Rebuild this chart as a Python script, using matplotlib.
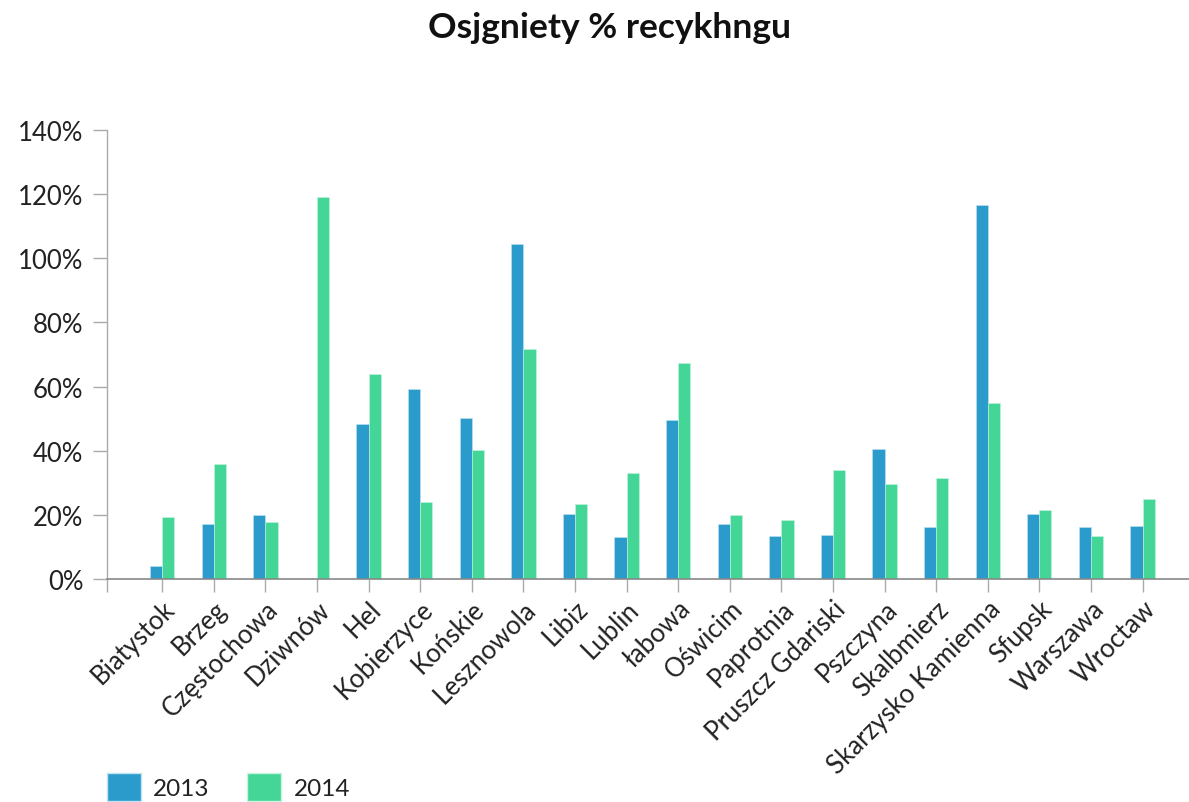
import matplotlib
matplotlib.use("Agg")
import matplotlib.pyplot as plt
from matplotlib.patches import Patch
import numpy as np

plt.rcParams['font.family'] = ['Lato', 'DejaVu Sans']

cities = ['Biatystok', 'Brzeg', 'Częstochowa', 'Dziwnów', 'Hel', 'Kobierzyce',
          'Końskie', 'Lesznowola', 'Libiz', 'Lublin', 'łabowa', 'Oświcim',
          'Paprotnia', 'Pruszcz Gdariski', 'Pszczyna', 'Skalbmierz',
          'Skarzysko Kamienna', 'Sfupsk', 'Warszawa', 'Wroctaw']
y2013 = [4.0, 17.2, 19.9, 0.0, 48.4, 59.3, 50.3, 104.4, 20.3, 13.0,
         49.5, 17.2, 13.3, 13.8, 40.6, 16.1, 116.5, 20.4, 16.2, 16.5]
y2014 = [19.2, 35.9, 17.9, 119.0, 63.9, 23.9, 40.2, 71.6, 23.5, 33.2,
         67.5, 20.1, 18.5, 34.0, 29.7, 31.6, 55.0, 21.6, 13.3, 25.0]
yticks = [0, 20, 40, 60, 80, 100, 120, 140]

blue = '#2a9bcb'
green = '#43d696'
txt = '#222222'

fig = plt.figure(figsize=(11.89, 8.03), dpi=100)
ax = fig.add_axes([107 / 1189, 223 / 803, 1082 / 1189, 449 / 803])

x = np.arange(len(cities))
w = 0.235
ax.bar(x - w / 2, y2013, width=w, color=blue, edgecolor='#bfe3f2', linewidth=0.4)
ax.bar(x + w / 2, y2014, width=w, color=green, edgecolor='#c8f3df', linewidth=0.4)

ax.set_xlim(-1.07, 19.9)
ax.set_ylim(0, 140)
ax.set_yticks(yticks)
ax.set_yticklabels([f'{v}%' for v in yticks], fontsize=18.5, color=txt)
ax.set_xticks(x)
ax.set_xticklabels(cities, fontsize=18.5, color=txt, rotation=45,
                   ha='right', rotation_mode='anchor')
ax.set_xticks([-1.07], minor=True)

ax.tick_params(axis='y', length=10, width=1, color='#aaaaaa', pad=7)
ax.tick_params(axis='x', which='both', length=9, width=1, color='#aaaaaa', pad=3)

for s in ['top', 'right']:
    ax.spines[s].set_visible(False)
ax.spines['left'].set_color('#aaaaaa')
ax.spines['bottom'].set_color('#888888')
ax.spines['left'].set_linewidth(1)
ax.spines['bottom'].set_linewidth(1.2)

fig.text(609 / 1189, 1 - 28 / 803, 'Osjgniety % recykhngu', fontsize=25.5,
         fontweight='bold', ha='center', va='center', color='#111111')

handles = [Patch(facecolor=blue, edgecolor='#bfe3f2', label='2013'),
           Patch(facecolor=green, edgecolor='#c8f3df', label='2014')]
leg = fig.legend(handles=handles, loc='lower left', ncol=2, frameon=False,
                 bbox_to_anchor=(90 / 1189, -16 / 803), fontsize=17.5,
                 handlelength=1.4, handleheight=1.4, handletextpad=0.5,
                 columnspacing=1.55, borderpad=0.2)
for t in leg.get_texts():
    t.set_color(txt)

fig.savefig('out.png', dpi=100)
